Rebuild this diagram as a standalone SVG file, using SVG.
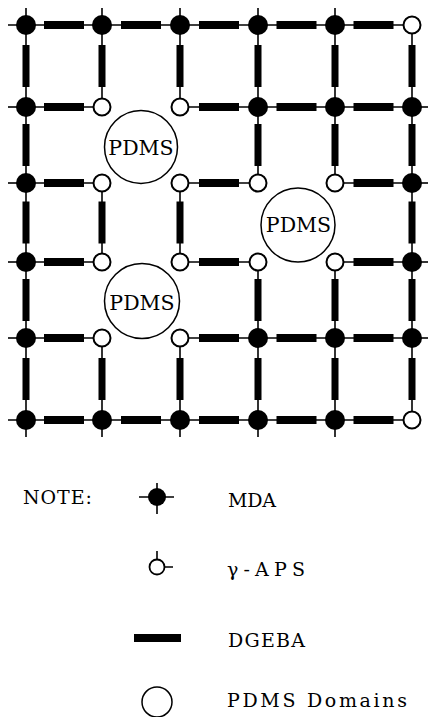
<svg xmlns="http://www.w3.org/2000/svg" width="428" height="717" viewBox="0 0 428 717">
<style>
.ln{stroke:#000;stroke-width:1.6;fill:none}
.bar{fill:#000}
.mda{fill:#000}
.aps{fill:#fff;stroke:#000;stroke-width:2}
.pdms{fill:#fff;stroke:#000;stroke-width:1.5}
.pt{font-family:"DejaVu Serif","Liberation Serif",serif;font-size:20.5px;text-anchor:middle;fill:#000}
.lt{font-family:"DejaVu Serif","Liberation Serif",serif;font-size:19px;fill:#000}
</style>
<rect width="428" height="717" fill="#fff"/>
<g id="connectors">
<g><line class="ln" x1="26" y1="25" x2="102" y2="25"/><rect class="bar" x="44" y="21" width="40" height="8"/></g>
<g><line class="ln" x1="102" y1="25" x2="180" y2="25"/><rect class="bar" x="121" y="21" width="40" height="8"/></g>
<g><line class="ln" x1="180" y1="25" x2="258" y2="25"/><rect class="bar" x="199" y="21" width="40" height="8"/></g>
<g><line class="ln" x1="258" y1="25" x2="335" y2="25"/><rect class="bar" x="276.5" y="21" width="40" height="8"/></g>
<g><line class="ln" x1="335" y1="25" x2="412" y2="25"/><rect class="bar" x="353.5" y="21" width="40" height="8"/></g>
<g><line class="ln" x1="26" y1="107" x2="102" y2="107"/><rect class="bar" x="44" y="103" width="40" height="8"/></g>
<g><line class="ln" x1="180" y1="107" x2="258" y2="107"/><rect class="bar" x="199" y="103" width="40" height="8"/></g>
<g><line class="ln" x1="258" y1="107" x2="335" y2="107"/><rect class="bar" x="276.5" y="103" width="40" height="8"/></g>
<g><line class="ln" x1="335" y1="107" x2="412" y2="107"/><rect class="bar" x="353.5" y="103" width="40" height="8"/></g>
<g><line class="ln" x1="26" y1="183" x2="102" y2="183"/><rect class="bar" x="44" y="179" width="40" height="8"/></g>
<g><line class="ln" x1="180" y1="183" x2="258" y2="183"/><rect class="bar" x="199" y="179" width="40" height="8"/></g>
<g><line class="ln" x1="335" y1="183" x2="412" y2="183"/><rect class="bar" x="353.5" y="179" width="40" height="8"/></g>
<g><line class="ln" x1="26" y1="262" x2="102" y2="262"/><rect class="bar" x="44" y="258" width="40" height="8"/></g>
<g><line class="ln" x1="180" y1="262" x2="258" y2="262"/><rect class="bar" x="199" y="258" width="40" height="8"/></g>
<g><line class="ln" x1="335" y1="262" x2="412" y2="262"/><rect class="bar" x="353.5" y="258" width="40" height="8"/></g>
<g><line class="ln" x1="26" y1="338" x2="102" y2="338"/><rect class="bar" x="44" y="334" width="40" height="8"/></g>
<g><line class="ln" x1="180" y1="338" x2="258" y2="338"/><rect class="bar" x="199" y="334" width="40" height="8"/></g>
<g><line class="ln" x1="258" y1="338" x2="335" y2="338"/><rect class="bar" x="276.5" y="334" width="40" height="8"/></g>
<g><line class="ln" x1="335" y1="338" x2="412" y2="338"/><rect class="bar" x="353.5" y="334" width="40" height="8"/></g>
<g><line class="ln" x1="26" y1="420" x2="102" y2="420"/><rect class="bar" x="44" y="416" width="40" height="8"/></g>
<g><line class="ln" x1="102" y1="420" x2="180" y2="420"/><rect class="bar" x="121" y="416" width="40" height="8"/></g>
<g><line class="ln" x1="180" y1="420" x2="258" y2="420"/><rect class="bar" x="199" y="416" width="40" height="8"/></g>
<g><line class="ln" x1="258" y1="420" x2="335" y2="420"/><rect class="bar" x="276.5" y="416" width="40" height="8"/></g>
<g><line class="ln" x1="335" y1="420" x2="412" y2="420"/><rect class="bar" x="353.5" y="416" width="40" height="8"/></g>
<g><line class="ln" x1="26" y1="25" x2="26" y2="107"/><rect class="bar" x="22.5" y="45" width="7" height="42"/></g>
<g><line class="ln" x1="26" y1="107" x2="26" y2="183"/><rect class="bar" x="22.5" y="124" width="7" height="42"/></g>
<g><line class="ln" x1="26" y1="183" x2="26" y2="262"/><rect class="bar" x="22.5" y="201.5" width="7" height="42"/></g>
<g><line class="ln" x1="26" y1="262" x2="26" y2="338"/><rect class="bar" x="22.5" y="279" width="7" height="42"/></g>
<g><line class="ln" x1="26" y1="338" x2="26" y2="420"/><rect class="bar" x="22.5" y="358" width="7" height="42"/></g>
<g><line class="ln" x1="102" y1="25" x2="102" y2="107"/><rect class="bar" x="98.5" y="45" width="7" height="42"/></g>
<g><line class="ln" x1="102" y1="183" x2="102" y2="262"/><rect class="bar" x="98.5" y="201.5" width="7" height="42"/></g>
<g><line class="ln" x1="102" y1="338" x2="102" y2="420"/><rect class="bar" x="98.5" y="358" width="7" height="42"/></g>
<g><line class="ln" x1="180" y1="25" x2="180" y2="107"/><rect class="bar" x="176.5" y="45" width="7" height="42"/></g>
<g><line class="ln" x1="180" y1="183" x2="180" y2="262"/><rect class="bar" x="176.5" y="201.5" width="7" height="42"/></g>
<g><line class="ln" x1="180" y1="338" x2="180" y2="420"/><rect class="bar" x="176.5" y="358" width="7" height="42"/></g>
<g><line class="ln" x1="258" y1="25" x2="258" y2="107"/><rect class="bar" x="254.5" y="45" width="7" height="42"/></g>
<g><line class="ln" x1="258" y1="107" x2="258" y2="183"/><rect class="bar" x="254.5" y="124" width="7" height="42"/></g>
<g><line class="ln" x1="258" y1="262" x2="258" y2="338"/><rect class="bar" x="254.5" y="279" width="7" height="42"/></g>
<g><line class="ln" x1="258" y1="338" x2="258" y2="420"/><rect class="bar" x="254.5" y="358" width="7" height="42"/></g>
<g><line class="ln" x1="335" y1="25" x2="335" y2="107"/><rect class="bar" x="331.5" y="45" width="7" height="42"/></g>
<g><line class="ln" x1="335" y1="107" x2="335" y2="183"/><rect class="bar" x="331.5" y="124" width="7" height="42"/></g>
<g><line class="ln" x1="335" y1="262" x2="335" y2="338"/><rect class="bar" x="331.5" y="279" width="7" height="42"/></g>
<g><line class="ln" x1="335" y1="338" x2="335" y2="420"/><rect class="bar" x="331.5" y="358" width="7" height="42"/></g>
<g><line class="ln" x1="412" y1="25" x2="412" y2="107"/><rect class="bar" x="408.5" y="45" width="7" height="42"/></g>
<g><line class="ln" x1="412" y1="107" x2="412" y2="183"/><rect class="bar" x="408.5" y="124" width="7" height="42"/></g>
<g><line class="ln" x1="412" y1="183" x2="412" y2="262"/><rect class="bar" x="408.5" y="201.5" width="7" height="42"/></g>
<g><line class="ln" x1="412" y1="262" x2="412" y2="338"/><rect class="bar" x="408.5" y="279" width="7" height="42"/></g>
<g><line class="ln" x1="412" y1="338" x2="412" y2="420"/><rect class="bar" x="408.5" y="358" width="7" height="42"/></g>
</g>
<g id="n11"><path class="ln" d="M8 25H26M26 8V25"/><circle class="mda" cx="26" cy="25" r="10"/></g>
<g id="n12"><path class="ln" d="M102 8V25"/><circle class="mda" cx="102" cy="25" r="10"/></g>
<g id="n13"><path class="ln" d="M180 8V25"/><circle class="mda" cx="180" cy="25" r="10"/></g>
<g id="n14"><path class="ln" d="M258 8V25"/><circle class="mda" cx="258" cy="25" r="10"/></g>
<g id="n15"><path class="ln" d="M335 8V25"/><circle class="mda" cx="335" cy="25" r="10"/></g>
<g id="n16"><circle class="aps" cx="412" cy="25" r="8.5"/></g>
<g id="n21"><path class="ln" d="M8 107H26"/><circle class="mda" cx="26" cy="107" r="10"/></g>
<g id="n22"><circle class="aps" cx="102" cy="107" r="8.5"/></g>
<g id="n23"><circle class="aps" cx="180" cy="107" r="8.5"/></g>
<g id="n24"><circle class="mda" cx="258" cy="107" r="10"/></g>
<g id="n25"><circle class="mda" cx="335" cy="107" r="10"/></g>
<g id="n26"><path class="ln" d="M412 107H428"/><circle class="mda" cx="412" cy="107" r="10"/></g>
<g id="n31"><path class="ln" d="M8 183H26"/><circle class="mda" cx="26" cy="183" r="10"/></g>
<g id="n32"><circle class="aps" cx="102" cy="183" r="8.5"/></g>
<g id="n33"><circle class="aps" cx="180" cy="183" r="8.5"/></g>
<g id="n34"><circle class="aps" cx="258" cy="183" r="8.5"/></g>
<g id="n35"><circle class="aps" cx="335" cy="183" r="8.5"/></g>
<g id="n36"><path class="ln" d="M412 183H428"/><circle class="mda" cx="412" cy="183" r="10"/></g>
<g id="n41"><path class="ln" d="M8 262H26"/><circle class="mda" cx="26" cy="262" r="10"/></g>
<g id="n42"><circle class="aps" cx="102" cy="262" r="8.5"/></g>
<g id="n43"><circle class="aps" cx="180" cy="262" r="8.5"/></g>
<g id="n44"><circle class="aps" cx="258" cy="262" r="8.5"/></g>
<g id="n45"><circle class="aps" cx="335" cy="262" r="8.5"/></g>
<g id="n46"><path class="ln" d="M412 262H428"/><circle class="mda" cx="412" cy="262" r="10"/></g>
<g id="n51"><path class="ln" d="M8 338H26"/><circle class="mda" cx="26" cy="338" r="10"/></g>
<g id="n52"><circle class="aps" cx="102" cy="338" r="8.5"/></g>
<g id="n53"><circle class="aps" cx="180" cy="338" r="8.5"/></g>
<g id="n54"><circle class="mda" cx="258" cy="338" r="10"/></g>
<g id="n55"><circle class="mda" cx="335" cy="338" r="10"/></g>
<g id="n56"><path class="ln" d="M412 338H428"/><circle class="mda" cx="412" cy="338" r="10"/></g>
<g id="n61"><path class="ln" d="M8 420H26M26 420V437"/><circle class="mda" cx="26" cy="420" r="10"/></g>
<g id="n62"><path class="ln" d="M102 420V437"/><circle class="mda" cx="102" cy="420" r="10"/></g>
<g id="n63"><path class="ln" d="M180 420V437"/><circle class="mda" cx="180" cy="420" r="10"/></g>
<g id="n64"><path class="ln" d="M258 420V437"/><circle class="mda" cx="258" cy="420" r="10"/></g>
<g id="n65"><path class="ln" d="M335 420V437"/><circle class="mda" cx="335" cy="420" r="10"/></g>
<g id="n66"><circle class="aps" cx="412" cy="420" r="8.5"/></g>
<g id="pdms1"><circle class="pdms" cx="141" cy="147" r="36.5"/><text class="pt" x="141" y="155">PDMS</text></g>
<g id="pdms2"><circle class="pdms" cx="142" cy="301" r="37.5"/><text class="pt" x="142" y="310">PDMS</text></g>
<g id="pdms3"><circle class="pdms" cx="298" cy="225" r="37"/><text class="pt" x="298.5" y="232">PDMS</text></g>
<g id="legend">
<text class="lt" x="23" y="504" textLength="69" lengthAdjust="spacing">NOTE:</text>
<g id="leg-mda"><path class="ln" d="M139 497H174M157 483V514"/><circle class="mda" cx="157" cy="497" r="9"/><text class="lt" x="228" y="507" textLength="48" lengthAdjust="spacing">MDA</text></g>
<g id="leg-aps"><path class="ln" d="M157 551V560M164 567H173"/><circle class="aps" cx="157" cy="567" r="7.5" style="stroke-width:1.8"/><text class="lt" x="227" y="576" textLength="78" lengthAdjust="spacing">γ-APS</text></g>
<g id="leg-dgeba"><rect class="bar" x="134" y="634" width="47" height="8"/><text class="lt" x="228" y="647" textLength="77" lengthAdjust="spacing">DGEBA</text></g>
<g id="leg-pdms"><circle class="pdms" cx="157" cy="702" r="15"/><text class="lt" x="227" y="707" textLength="180" lengthAdjust="spacing">PDMS Domains</text></g>
</g>
</svg>
